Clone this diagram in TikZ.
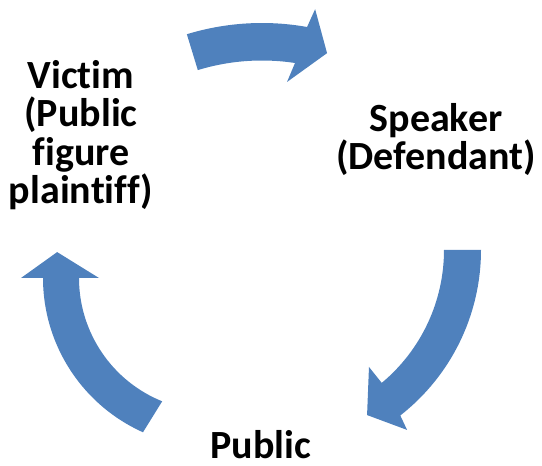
\documentclass[tikz,border=0pt]{standalone}
\usepackage{fontspec}
\setmainfont{Carlito}[Ligatures={NoCommon,NoContextual}]
\usetikzlibrary{calc}
\definecolor{arrowblue}{RGB}{79,129,189}
\tikzset{
  label text/.style={font=\fontsize{40}{38.5}\selectfont\bfseries, align=center, inner sep=0pt, anchor=base},
  cycle arrow/.style={fill=arrowblue, draw=none}
}
\begin{document}
\begin{tikzpicture}[x=1pt,y=1pt]
\useasboundingbox (0,0) rectangle (542,466);
% text nodes (base = baseline of last line)
\node[label text] (victim) at (81,262) {Victim\\(Public\\figure\\plaintiff)};
\node[label text] (speaker) at (436,296) {Speaker\\(Defendant)};
\node[label text] (public) at (261,7) {Public};
% top arrow: victim -> speaker
\begin{scope}[shift={(262,186)}]
\fill[cycle arrow] (107:257) arc[start angle=107, end angle=79.9, radius=257]
  -- (78.9:276) -- (74:236) -- (82.8:199.6) -- (81.35:219.5)
  arc[start angle=81.35, end angle=107, radius=219.5] -- cycle;
\end{scope}
% right arrow: speaker -> public
\begin{scope}[shift={(271,216)}]
\fill[cycle arrow] (0:210) arc[start angle=0, end angle=-52, radius=210]
  -- (-52.9:225.6) -- (-59.8:191) -- (-50.05:152.6) -- (-50.2:173)
  arc[start angle=-50.2, end angle=0, radius=173] -- cycle;
\end{scope}
% left arrow: public -> victim
\begin{scope}[shift={(212,188)}]
\fill[cycle arrow] (245.9:169) arc[start angle=245.9, end angle=180, radius=169]
  -- (180:191) -- (170.5:157) -- (180:113) -- (180:133)
  arc[start angle=180, end angle=248, radius=133] -- cycle;
\end{scope}
\end{tikzpicture}
\end{document}
